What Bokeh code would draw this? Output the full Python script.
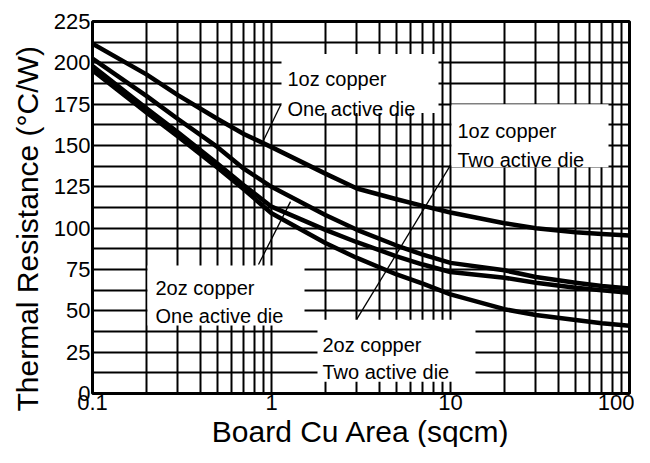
import math
from bokeh.plotting import figure
from bokeh.models import Range1d, FixedTicker, Label, BoxAnnotation, Title
from bokeh.embed import file_html
from bokeh.resources import INLINE

# ---------------- data ----------------
area = [0.1, 0.2, 0.3, 0.5, 0.7, 1, 2, 3, 5, 7, 10, 20, 30, 50, 70, 100]
oz1_one_die = [211.5, 193, 180.5, 166, 157, 149, 133, 124, 117.5, 113.5, 109.5, 103, 100, 97.5, 96.5, 95.5]
oz2_one_die = [202.5, 180, 166, 149, 136, 125, 108, 99, 89.5, 84, 79, 74.5, 70.5, 67, 65, 63.5]
oz1_two_die = [198, 172.5, 158, 139, 126, 113, 99, 91.5, 83, 78, 73.5, 70, 67, 64, 62.5, 61]
oz2_two_die = [195.5, 170, 155.5, 136.5, 123.5, 109, 91, 82, 72, 66.5, 60, 51, 47.5, 44.5, 42.5, 41]

x_ticks = [0.1, 1, 10, 100]
x_tick_labels = ["0.1", "1", "10", "100"]
x_minor = [0.2, 0.3, 0.4, 0.5, 0.6, 0.7, 0.8, 0.9,
           2, 3, 4, 5, 6, 7, 8, 9,
           20, 30, 40, 50, 60, 70, 80, 90]
y_ticks = [0, 25, 50, 75, 100, 125, 150, 175, 200, 225]
y_minor = [12.5, 37.5, 62.5, 87.5, 112.5, 137.5, 162.5, 187.5, 212.5]

x_title = "Board Cu Area (sqcm)"
y_title = "Thermal Resistance (\u00b0C/W)"

FONT = "Liberation Sans"

# helpers: annotation positions measured in reference pixels -> data space
def px_x(px):
    return 10 ** (-1 + (px - 92.0) / 179.0)

def px_y(py):
    return (402.0 - py) / 1.68

p = figure(width=634, height=447, x_axis_type="log",
           x_range=Range1d(0.1, 100), y_range=Range1d(0, 225),
           output_backend="svg", toolbar_location=None,
           min_border_left=92, min_border_right=5,
           min_border_top=21, min_border_bottom=0)
p.background_fill_color = "white"
p.border_fill_color = "white"
p.outline_line_color = "black"
p.outline_line_width = 3

# axes
p.xaxis.ticker = FixedTicker(ticks=x_ticks, minor_ticks=x_minor)
p.yaxis.ticker = FixedTicker(ticks=y_ticks, minor_ticks=y_minor)
p.xaxis.major_label_overrides = {t: s for t, s in zip(x_ticks, x_tick_labels)}
for ax in (p.xaxis, p.yaxis):
    ax.axis_line_color = None
    ax.major_tick_out = 0
    ax.major_tick_in = 0
    ax.minor_tick_out = 0
    ax.minor_tick_in = 0
    ax.major_label_text_font = FONT
    ax.major_label_text_font_size = "22px"
    ax.major_label_text_color = "black"
p.xaxis.major_label_standoff = 1
p.yaxis.major_label_standoff = 2

# grid
for g in (p.xgrid, p.ygrid):
    g.grid_line_color = "black"
    g.grid_line_width = 2
    g.minor_grid_line_color = "black"
    g.minor_grid_line_width = 2

# curves
for ys in (oz1_one_die, oz2_one_die, oz1_two_die, oz2_two_die):
    p.line(area, ys, line_color="black", line_width=4.5, line_join="round")

# leader lines
lead_x0 = [px_x(281), px_x(258), px_x(450)]
lead_y0 = [px_y(107), px_y(271), px_y(170)]
lead_x1 = [px_x(262), px_x(290), px_x(356)]
lead_y1 = [px_y(147), px_y(207), px_y(327)]
p.segment(lead_x0, lead_y0, lead_x1, lead_y1, line_color="black", line_width=1.3)

# white label boxes
boxes = [(281, 438, 57, 117), (451, 608, 108, 172), (147, 304, 272, 333), (317, 475, 327, 390)]
for l, r, t, b in boxes:
    p.add_layout(BoxAnnotation(left=px_x(l), right=px_x(r), top=px_y(t), bottom=px_y(b),
                               fill_color="white", fill_alpha=1.0, line_color=None))

texts = [
    ("1oz copper", 287, 82), ("One active die", 287, 112.5),
    ("1oz copper", 457, 135), ("Two active die", 457, 165),
    ("2oz copper", 155, 295), ("One active die", 155, 323.5),
    ("2oz copper", 322, 353), ("Two active die", 322, 380),
]
for s, x, y in texts:
    p.add_layout(Label(x=px_x(x), y=px_y(y), text=s, text_font=FONT, text_font_size="20px",
                       text_color="black", text_align="left", text_baseline="alphabetic"))

# axis titles
p.add_layout(Title(text=x_title, align="center", text_font=FONT, text_font_size="30px",
                   text_font_style="normal", text_color="black", standoff=0), "below")
p.add_layout(Title(text=y_title, align="left", offset=-18, text_font=FONT, text_font_size="30px",
                   text_font_style="normal", text_color="black", standoff=13), "left")

open("out.html", "w").write(file_html(p, INLINE))
